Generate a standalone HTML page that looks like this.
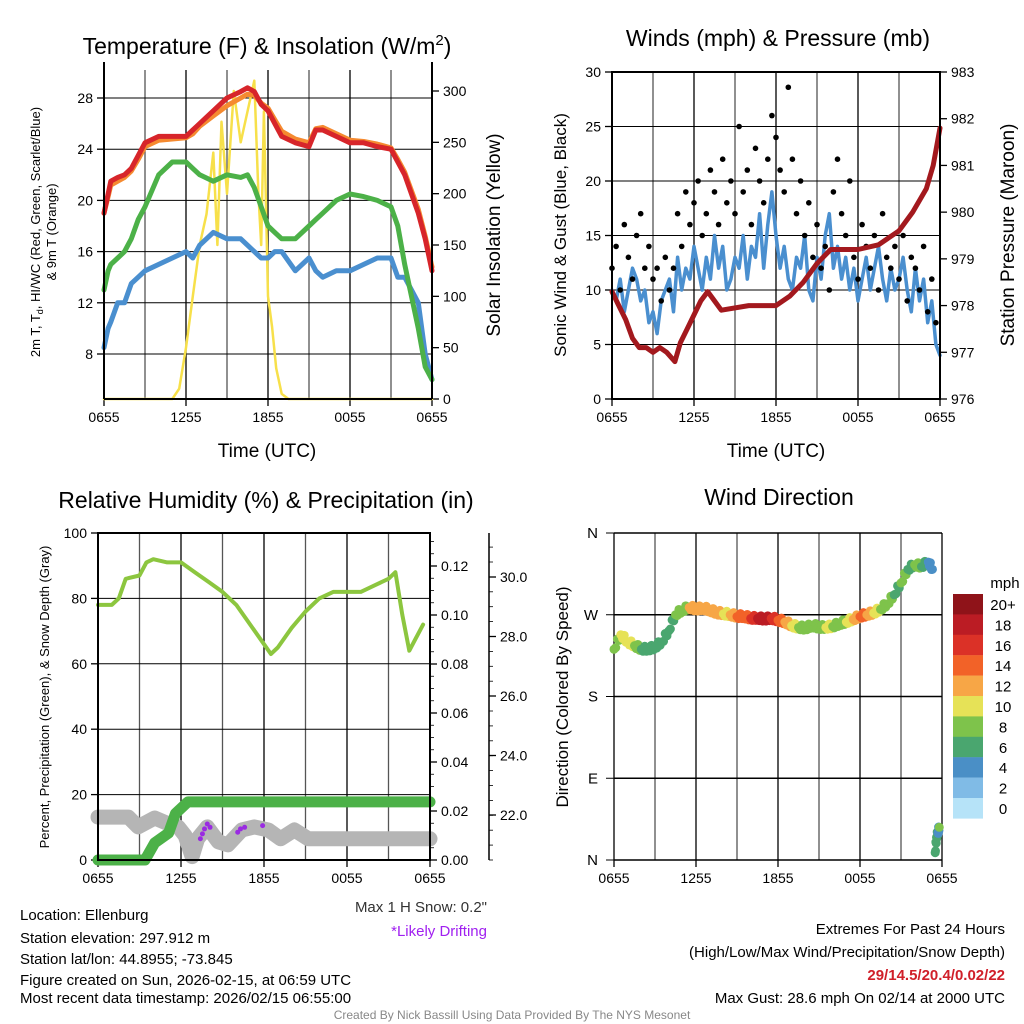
<!DOCTYPE html>
<html><head><meta charset="utf-8"><style>
body{margin:0;background:#fff}
svg{display:block;font-family:"Liberation Sans",Arial,sans-serif}
</style></head><body>
<svg id="s" width="1024" height="1024" viewBox="0 0 1024 1024" xmlns="http://www.w3.org/2000/svg">
<g id="g"></g>
<text x="267" y="54" font-size="23" text-anchor="middle">Temperature (F) &amp; Insolation (W/m<tspan dy="-9" font-size="15">2</tspan><tspan dy="9">)</tspan></text>
<text x="778" y="46" font-size="23" text-anchor="middle">Winds (mph) &amp; Pressure (mb)</text>
<text x="266" y="508" font-size="23" text-anchor="middle">Relative Humidity (%) &amp; Precipitation (in)</text>
<text x="779" y="505" font-size="23" text-anchor="middle">Wind Direction</text>
<text x="267" y="457" font-size="19" text-anchor="middle">Time (UTC)</text>
<text x="776" y="457" font-size="19" text-anchor="middle">Time (UTC)</text>
<g font-size="13"><text transform="translate(40,232) rotate(-90)" text-anchor="middle">2m T, T<tspan font-size="9" dy="3">d</tspan><tspan dy="-3">, HI/WC (Red, Green, Scarlet/Blue)</tspan></text><text transform="translate(56,232) rotate(-90)" text-anchor="middle">&amp; 9m T (Orange)</text></g>
<text transform="translate(500,235) rotate(-90)" font-size="19" text-anchor="middle">Solar Insolation (Yellow)</text>
<text transform="translate(566,235) rotate(-90)" font-size="17" text-anchor="middle">Sonic Wind &amp; Gust (Blue, Black)</text>
<text transform="translate(1014,235) rotate(-90)" font-size="19" text-anchor="middle">Station Pressure (Maroon)</text>
<text transform="translate(49,697) rotate(-90)" font-size="13" text-anchor="middle">Percent, Precipitation (Green), &amp; Snow Depth (Gray)</text>
<text transform="translate(568,697) rotate(-90)" font-size="17" text-anchor="middle">Direction (Colored By Speed)</text>
<text x="487" y="912" font-size="15" text-anchor="end" fill="#333">Max 1 H Snow: 0.2"</text>
<text x="487" y="936" font-size="15" text-anchor="end" fill="#a020f0">*Likely Drifting</text>
<g font-size="15">
<text x="20" y="920">Location: Ellenburg</text>
<text x="20" y="943">Station elevation: 297.912 m</text>
<text x="20" y="964">Station lat/lon: 44.8955; -73.845</text>
<text x="20" y="985">Figure created on Sun, 2026-02-15, at 06:59 UTC</text>
<text x="20" y="1003">Most recent data timestamp: 2026/02/15 06:55:00</text>
</g>
<g font-size="15" text-anchor="end">
<text x="1005" y="934">Extremes For Past 24 Hours</text>
<text x="1005" y="957">(High/Low/Max Wind/Precipitation/Snow Depth)</text>
<text x="1005" y="980" fill="#d0202a" font-weight="bold">29/14.5/20.4/0.02/22</text>
<text x="1005" y="1003">Max Gust: 28.6 mph On 02/14 at 2000 UTC</text>
</g>
<text x="512" y="1019" font-size="12" fill="#888" text-anchor="middle">Created By Nick Bassill Using Data Provided By The NYS Mesonet</text>
</svg>
<script>
// ---- data ----
const xTickLabels=["0655","1255","1855","0055","0655"];
const tH=[0,0.3,0.5,1,1.5,2,2.5,3,4,5,6,6.5,7,8,9,10,10.5,11,11.5,12,12.5,13,14,15,15.5,16,17,18,19,20,21,21.5,22,23,23.5,24];
const tempRed=[19,20.5,21.5,21.8,22,22.5,23.5,24.5,25,25,25,25.5,26,27,28,28.5,28.8,28.5,27.5,27,26,25,24.5,24.2,25.5,25.5,25,24.5,24.5,24.2,24,23,22,19,17,14.5];
const temp9m=[19,20.3,21.2,21.5,21.8,22.3,23.2,24.2,24.7,24.8,24.9,25.2,25.8,26.6,27.4,28,28.3,28.2,27.6,27.2,26.3,25.4,24.8,24.5,25.6,25.7,25.2,24.7,24.6,24.4,24.1,23.2,22.2,19.3,17.2,14.8];
const dewG=[13,14.5,15,15.5,16,17,18.5,19.5,22,23,23,22.5,22,21.5,22,21.8,22,21,19.5,18,17.5,17,17,18,18.5,19,20,20.5,20.3,20,19.5,18,15,10,7,6];
const wchill=[8.5,10,10.5,12,12,13.5,14,14.5,15,15.5,16,15.5,16.5,17.5,17,17,16.5,16,15.5,15.5,16,16,14.5,15.5,14.5,14,14.5,14.5,15,15.5,15.5,14,14,12,8,6];
const solH=[0,5,5.5,6,6.5,7,7.5,8,8.3,8.6,9,9.5,10,10.5,11,11.3,11.5,11.7,12,12.3,12.6,13,13.5,24];
const solar=[0,0,10,50,100,150,180,240,150,270,200,300,250,280,310,200,150,280,100,70,30,5,0,0];
const gust=[12,14,10,16,13,11,15,17,12,14,11,12,9,13,10,12,17,14,19,16,18,20,15,17,21,19,16,22,18,20,17,25,19,21,16,23,20,18,22,26,24,21,19,28.6,22,17,20,15,18,13,16,12,14,10,19,22,17,15,20,13,11,16,14,12,15,10,17,13,12,14,11,15,9,13,12,10,14,8,11,7];
const wind=[10,9,11,8,10,12,11,9,10,7,8,6,9,10,11,8,13,10,12,11,14,12,10,13,11,15,12,14,10,11,13,12,15,11,14,13,17,12,16,19,15,12,14,11,10,13,12,15,10,9,13,11,15,17,12,14,11,13,10,12,9,11,13,10,12,14,11,9,12,10,11,13,10,8,12,9,11,7,9,5,4];
const presH=[0,0.5,1,1.5,2,2.5,3,3.5,4,4.6,5,5.5,6,6.5,7,7.5,8,10,12,13,14,15,16,18,19.5,21,22,23,23.5,24];
const pres=[978.3,978,977.7,977.3,977.1,977.1,977,977.1,977,976.8,977.2,977.5,977.8,978.1,978.3,978.1,977.9,978,978,978.2,978.5,978.9,979.2,979.2,979.3,979.6,980,980.5,981,981.8];
const rhH=[0,1,1.5,2,3,3.5,4,5,6,7,8,9,10,11,12,12.5,13,14,15,16,17,18,19,20,21,21.5,22,22.5,23,23.5];
const rh=[78,78,80,86,87,91,92,91,91,88,85,82,78,72,66,63,65,71,76,80,82,82,82,84,86,88,75,64,68,72];
const prH=[0,3.4,4.1,5.1,5.6,6.5,24];
const precip=[0,0,0.007,0.011,0.019,0.0237,0.0237];
const snH=[0,2.2,2.9,4.1,5.1,5.8,6.3,6.8,7.2,7.9,8.7,9.4,10.4,11.3,12.3,13.2,14.2,15.2,24];
const snow=[21.93,21.93,21.6,21.9,21.7,21.6,21.3,20.6,21.2,21.6,21.1,21.0,21.5,21.6,21.5,21.2,21.5,21.2,21.2];
const drH=[7.4,7.55,7.7,7.9,8.1,10.1,10.3,10.6,11.9];
const drift=[6.5,8,9.5,11,10,8.5,9.5,10,10.5];
const dirH=[0,0.5,1,1.5,2,2.5,3,3.5,4,4.5,5,5.5,6,6.5,7,7.5,8,8.5,9,9.5,10,10.5,11,11.5,12,12.5,13,13.5,14,14.5,15,15.5,16,16.5,17,17.5,18,18.5,19,19.5,20,20.5,21,21.5,22,22.5,23,23.3,23.5,23.6,23.7,23.8];
const dirDeg=[232,248,240,236,232,232,234,240,252,270,275,278,276,277,275,272,271,270,268,268,266,266,265,266,264,262,258,256,255,258,256,256,257,260,262,265,268,270,272,276,282,292,305,320,325,323,328,320,8,25,30,36];
const dirSpd=[9,10,10,9,7,6,6,6,7,8,9,12,12,12,13,12,11,12,14,15,17,18,18,16,14,12,10,9,8,9,9,10,9,9,10,13,14,12,10,9,8,7,8,7,8,6,5,4,6,7,5,8];
const cbLabels=["20+","18","16","14","12","10","8","6","4","2","0"];
const cbColors=["#8f1319","#bb1c24","#db3127","#f26228","#f7a646","#e6e257","#7ec34b","#4aa66f","#4a8fc6","#80bbe6","#b6e3f8"];
const tempTicks=[8,12,16,20,24,28],solTicks=[0,50,100,150,200,250,300],windTicks=[0,5,10,15,20,25,30],presTicks=[976,977,978,979,980,981,982,983];
const rhTicks=[0,20,40,60,80,100],prTicks=[0,0.02,0.04,0.06,0.08,0.10,0.12],snTicks=[22,24,26,28,30];
const dirTicks=["N","E","S","W","N"];

// ---- helpers ----
const NS="http://www.w3.org/2000/svg";const G=document.getElementById('g');
function mk(t,a,p){const e=document.createElementNS(NS,t);for(const k in a)e.setAttribute(k,a[k]);(p||G).appendChild(e);return e;}
function lin(d0,d1,r0,r1){return v=>r0+(v-d0)/(d1-d0)*(r1-r0);}
function path(xs,ys,sx,sy){return xs.map((x,i)=>(i?'L':'M')+sx(x).toFixed(1)+','+sy(ys[i]).toFixed(1)).join('');}
function frame(x0,y0,x1,y1,name){
  const g=mk('g',{});
  for(let i=0;i<=8;i++){const x=x0+(x1-x0)*i/8;mk('line',{x1:x,x2:x,y1:y0,y2:y1,stroke:i%2?'#555':'#000','stroke-width':1.3},g);}
  const xl=mk('g',{'font-size':14,'text-anchor':'middle'});
  xTickLabels.forEach((t,i)=>{const x=x0+(x1-x0)*i/4;mk('line',{x1:x,x2:x,y1:y1,y2:y1+7,stroke:'#000','stroke-width':1.3},xl);const tx=mk('text',{x:x,y:y1+23},xl);tx.textContent=t;});
}
function hgrid(vals,sy,x0,x1,w){vals.forEach(v=>{const l=mk('line',{x1:x0,x2:x1,y1:sy(v),y2:sy(v),stroke:'#000','stroke-width':w||1});});}
function yaxis(x,ticks,sy,side,fmt,name,fs){const g=mk('g',{'font-size':fs||14,'text-anchor':side<0?'end':'start'});
  ticks.forEach(v=>{mk('line',{x1:x,x2:x+side*7,y1:sy(v),y2:sy(v),stroke:'#000','stroke-width':1.3},g);const t=mk('text',{x:x+side*11,y:sy(v)+5},g);t.textContent=fmt(v);});}
function minor(x,y0,y1,step,side){for(let y=y1;y>=y0;y-=step)mk('line',{x1:x,x2:x+side*4,y1:y,y2:y,stroke:'#000','stroke-width':0.8});}
function line(xs,ys,sx,sy,col,w,name){const p=mk('path',{d:path(xs,ys,sx,sy),fill:'none',stroke:col,'stroke-width':w,'stroke-linejoin':'round','stroke-linecap':'round'});}
function box(x0,y0,x1,y1){const r=mk('rect',{x:x0,y:y0,width:x1-x0,height:y1-y0,fill:'none',stroke:'#000','stroke-width':2});}

// Panel 1
{const x0=104,x1=432,y0=70,y1=399;const sx=lin(0,24,x0,x1),sy=lin(8,28,354,98),ss=lin(0,300,399,91);
 frame(x0,y0,x1,y1,'temp');hgrid(tempTicks,sy,x0,x1);
 yaxis(x0,tempTicks,sy,-1,v=>v,'temp-y-ticks');yaxis(x1,solTicks,ss,1,v=>v,'solar-y-ticks');
 line(solH,solar,sx,ss,'#f7e04a',2.5,'solar-line');
 line(tH,wchill,sx,sy,'#4a8fcf',5,'windchill-line');
 line(tH,dewG,sx,sy,'#4cb148',5,'dewpoint-line');
 line(tH,temp9m,sx,sy,'#f58a30',5,'temp-9m-line');
 line(tH,tempRed,sx,sy,'#d7252a',5,'temp-2m-line');
 mk('line',{x1:x0,x2:x0,y1:y0-8,y2:y1,stroke:'#000','stroke-width':2});mk('line',{x1:x1,x2:x1,y1:y0-8,y2:y1,stroke:'#000','stroke-width':2});mk('line',{x1:x0,x2:x1,y1:y1,y2:y1,stroke:'#000','stroke-width':2});}
// Panel 2
{const x0=612,x1=940,y0=72,y1=399;const sx=lin(0,24,x0,x1),sy=lin(0,30,y1,y0),sp=lin(976,983,y1,y0);
 frame(x0,y0,x1,y1,'wind');hgrid(windTicks,sy,x0,x1);
 yaxis(x0,windTicks,sy,-1,v=>v,'wind-y-ticks');yaxis(x1,presTicks,sp,1,v=>v,'pressure-y-ticks');
 line(wind.map((v,i)=>i*0.3),wind,sx,sy,'#4a8fcf',3.5,'wind-line');
 gust.forEach((v,i)=>{const c=mk('circle',{cx:sx(i*0.3),cy:sy(v),r:2.8,fill:'#000'});});
 line(presH,pres,sx,sp,'#a3191e',5,'pressure-line');box(x0,y0,x1,y1);}
// Panel 3
{const x0=98,x1=430,y0=533,y1=860;const sx=lin(0,24,x0,x1),sy=lin(0,100,y1,y0),sp=lin(0,0.12,860,566),sn=lin(22,30,815,577);
 frame(x0,y0,x1,y1,'rh');hgrid(rhTicks,sy,x0,x1);
 yaxis(x0,rhTicks,sy,-1,v=>v,'rh-y-ticks');yaxis(x1,prTicks,sp,1,v=>v.toFixed(2),'precip-y-ticks');
 minor(x1,y0,y1,12.25,1);
 mk('line',{x1:489,x2:489,y1:y0,y2:y1,stroke:'#000','stroke-width':1.5});
 minor(489,y0+8,y1,14.9,1);
 yaxis(489,snTicks,sn,1,v=>v.toFixed(1),'snow-y-ticks');
 line(snH,snow,sx,sn,'#b5b5b5',15,'snow-depth-line');
 line(prH,precip,sx,sp,'#4cb148',11,'precip-line');
 drH.forEach((h,i)=>{const c=mk('circle',{cx:sx(h),cy:sy(drift[i]),r:2.5,fill:'#9a2be2'});});
 line(rhH,rh,sx,sy,'#8cc63f',4,'rh-line');box(x0,y0,x1,y1);}
// Panel 4
{const x0=614,x1=942,y0=533,y1=860;const sx=lin(0,24,x0,x1),sy=lin(0,360,y1,y0);
 frame(x0,y0,x1,y1,'dir');hgrid([0,90,180,270,360],sy,x0,x1,1.5);
 const g=mk('g',{'font-size':15,'text-anchor':'end'});
 dirTicks.forEach((t,i)=>{const y=sy(i*90);mk('line',{x1:x0-8,x2:x0,y1:y,y2:y,stroke:'#000'},g);const tx=mk('text',{x:x0-16,y:y+5},g);tx.textContent=t;});
 dirH.forEach((h,i)=>{const k=Math.max(0,Math.min(10,Math.floor(dirSpd[i]/2)));const c=mk('circle',{cx:sx(h),cy:sy(dirDeg[i]),r:4.5,fill:cbColors[10-k]});
  if(i+1<dirH.length&&Math.abs(dirDeg[i+1]-dirDeg[i])<60){for(let f=0.25;f<1;f+=0.25){const c2=mk('circle',{cx:sx(h+(dirH[i+1]-h)*f),cy:sy(dirDeg[i]+(dirDeg[i+1]-dirDeg[i])*f)+(f==0.5?-3:2),r:4.5,fill:cbColors[10-k]});}}});
 const cb=mk('g',{'font-size':15,'text-anchor':'middle'});
 const t0=mk('text',{x:1005,y:588},cb);t0.textContent='mph';
 cbLabels.forEach((l,i)=>{const y=594+i*20.4;mk('rect',{x:953,y:y,width:30,height:20.6,fill:cbColors[i]},cb);const t=mk('text',{x:1003,y:y+16},cb);t.textContent=l;});}
</script>
</body></html>
